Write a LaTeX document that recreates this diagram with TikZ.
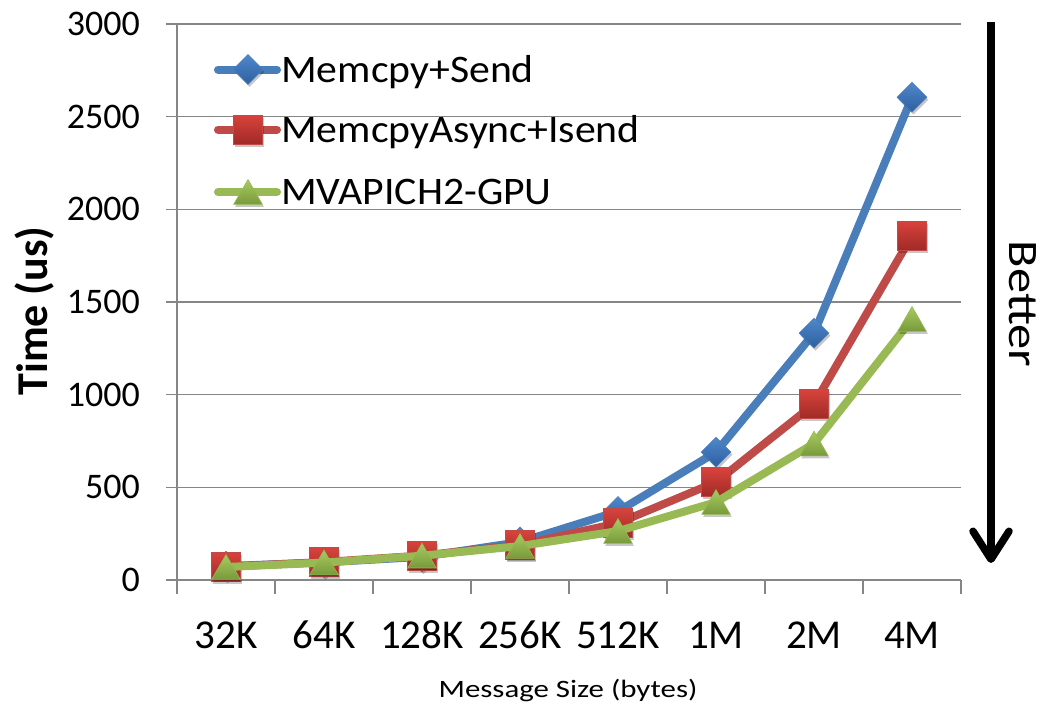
\documentclass[tikz,border=0pt]{standalone}
\usepackage{fontspec}
\setmainfont{Carlito}
\newfontfamily\widesans[FakeStretch=1.2]{Carlito}
\newfontfamily\legendsans[FakeStretch=1.07]{Carlito}
\newfontfamily\widersans[FakeStretch=1.235]{Carlito}
\usetikzlibrary{arrows.meta,shapes.geometric,shadows}

\definecolor{sendblue}{HTML}{4A7EBB}
\definecolor{sendbluehi}{HTML}{4F88CC}
\definecolor{sendbluelo}{HTML}{2D5F9F}
\definecolor{isendred}{HTML}{BE4B48}
\definecolor{isendredhi}{HTML}{D8433C}
\definecolor{isendredlo}{HTML}{A02A27}
\definecolor{gpugreen}{HTML}{98B954}
\definecolor{gpugreenhi}{HTML}{A8CB62}
\definecolor{gpugreenlo}{HTML}{78993A}
\definecolor{gridgray}{HTML}{868686}

\tikzset{
  gridline/.style={draw=gridgray, line width=1.6pt},
  series/.style={line width=8pt, line join=round},
  markshadow/.style={drop shadow={shadow xshift=1.5pt, shadow yshift=-2.5pt, opacity=0.22, fill=black}},
  bluemark/.style={diamond, aspect=1, minimum size=30pt, inner sep=0pt,
    top color=sendbluehi, bottom color=sendbluelo, draw=sendblue, line width=0.6pt, markshadow},
  redmark/.style={rectangle, minimum size=29pt, inner sep=0pt,
    top color=isendredhi, bottom color=isendredlo, draw=isendred, line width=0.6pt, markshadow},
  greenmark/.style={regular polygon, regular polygon sides=3, minimum size=33pt, inner sep=0pt,
    yshift=-4pt, top color=gpugreenhi, bottom color=gpugreenlo, draw=gpugreen, line width=0.6pt, markshadow},
  ylab/.style={anchor=east, inner sep=0pt, font=\fontsize{36}{40}\selectfont},
  xlab/.style={anchor=base, inner sep=0pt, font=\fontsize{41}{45}\selectfont},
  legtext/.style={anchor=base west, inner sep=0pt, font=\legendsans\fontsize{39}{43}\selectfont},
}

\begin{document}
\begin{tikzpicture}[x=1pt, y=-1pt]
\useasboundingbox (0,0) rectangle (1047,705);

% horizontal grid lines with value labels
\foreach \v in {0,500,...,3000} {
  \coordinate (gl\v) at (166, {580-0.18533*\v});
  \coordinate (gr\v) at (961, {580-0.18533*\v});
  \draw[gridline] (gl\v) -- (gr\v);
  \node[ylab] (yl\v) at (140, {580-0.18533*\v}) {\v};
}

% value axis and category tick marks
\coordinate (axtop) at (177,24);
\coordinate (axbot) at (177,594);
\draw[gridline] (axtop) -- (axbot);
\foreach \i in {1,...,8} {
  \coordinate (tk\i a) at ({177+98*\i},580);
  \coordinate (tk\i b) at ({177+98*\i},594);
  \draw[gridline] (tk\i a) -- (tk\i b);
}

% category labels
\foreach \lab [count=\i] in {32K,64K,128K,256K,512K,1M,2M,4M}
  \node[xlab] (xl\i) at ({177+98*\i-49}, 648) {\lab};

\node[inner sep=0pt, anchor=base, font=\widersans\fontsize{25}{29}\selectfont] (xtitle) at (568,697) {Message Size (bytes)};
\node[inner sep=0pt, anchor=base, rotate=90, font=\fontsize{44}{48}\selectfont\bfseries] (ytitle) at (47,311) {Time (us)};

% data points
\foreach \v [count=\i] in {75,95,125,205,370,690,1332,2605}
  \coordinate (b\i) at ({177+98*\i-49}, {580-0.18533*\v});
\foreach \v [count=\i] in {72,97,132,189,307,528,949,1858}
  \coordinate (r\i) at ({177+98*\i-49}, {580-0.18533*\v});
\foreach \v [count=\i] in {70,94,131,183,264,420,736,1408}
  \coordinate (g\i) at ({177+98*\i-49}, {580-0.18533*\v});

% Memcpy+Send
\draw[series, sendblue] (b1) -- (b2) -- (b3) -- (b4) -- (b5) -- (b6) -- (b7) -- (b8);
\foreach \i in {1,...,8} \node[bluemark] (bm\i) at (b\i) {};
% MemcpyAsync+Isend
\draw[series, isendred] (r1) -- (r2) -- (r3) -- (r4) -- (r5) -- (r6) -- (r7) -- (r8);
\foreach \i in {1,...,8} \node[redmark] (rm\i) at (r\i) {};
% MVAPICH2-GPU
\draw[series, gpugreen] (g1) -- (g2) -- (g3) -- (g4) -- (g5) -- (g6) -- (g7) -- (g8);
\foreach \i in {1,...,8} \node[greenmark] (gm\i) at (g\i) {};

% legend
\coordinate (la1) at (218,69.5);  \coordinate (lb1) at (277,69.5);
\coordinate (la2) at (218,129.5); \coordinate (lb2) at (277,129.5);
\coordinate (la3) at (218,192);   \coordinate (lb3) at (277,192);
\draw[series, sendblue, line cap=round] (la1) -- (lb1);
\node[bluemark] (lm1) at (248,69.5) {};
\draw[series, isendred, line cap=round] (la2) -- (lb2);
\node[redmark] (lm2) at (248,129.5) {};
\draw[series, gpugreen, line cap=round] (la3) -- (lb3);
\node[greenmark] (lm3) at (248,192) {};
\node[legtext] (lt1) at (281,82) {Memcpy+Send};
\node[legtext] (lt2) at (281,142) {MemcpyAsync+Isend};
\node[legtext] (lt3) at (281,204.5) {MVAPICH2-GPU};

% direction arrow
\coordinate (arrtop) at (991,22);
\coordinate (arrbot) at (991,563);
\draw[line width=7.5pt, -{Straight Barb[round, length=28pt, width=36pt]}] (arrtop) -- (arrbot);
\node[inner sep=0pt, anchor=base, rotate=-90, font=\widesans\fontsize{42}{46}\selectfont] (better) at (1009,304) {Better};
\end{tikzpicture}
\end{document}
